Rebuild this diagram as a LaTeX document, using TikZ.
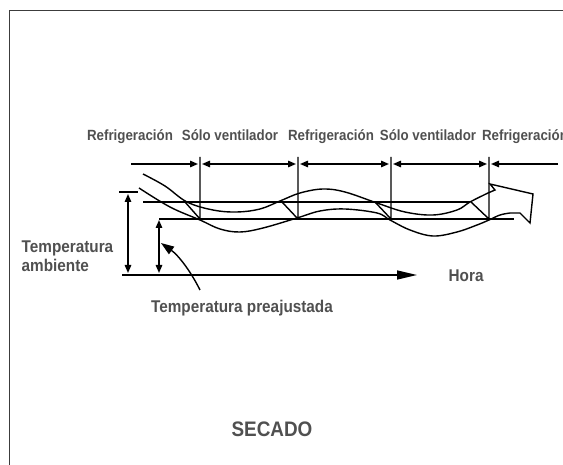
\documentclass[tikz,border=0pt]{standalone}
\usepackage{fontspec}
\newfontfamily\diagfont{Liberation Sans}[FakeStretch=0.9]
\usetikzlibrary{arrows.meta}
\definecolor{textgray}{RGB}{80,80,80}
\definecolor{framegray}{RGB}{60,60,60}

\tikzset{
  phasetext/.style={font=\diagfont\bfseries\fontsize{14.8}{17}\selectfont,
                    text=textgray, inner sep=0pt, anchor=base},
  axistext/.style={font=\diagfont\bfseries\fontsize{17}{19}\selectfont,
                   text=textgray, inner sep=0pt},
  dimarrow/.style={<->, shorten <=2pt, shorten >=2pt},
  tempcurve/.style={smooth, tension=0.6},
}

\begin{document}
\begin{tikzpicture}[x=1pt, y=-1pt, line width=1.4pt,
    >={Triangle[length=8pt,width=6.5pt]}]
  \useasboundingbox (0,0) rectangle (563,465);
  \clip (0,0) rectangle (563,465);
  \draw[framegray, line width=1.8pt] (9.5,465) -- (9.5,10.5) -- (563,10.5);

  % phases along the top
  \foreach \x/\t [count=\i] in {130/Refrigeración, 230/Sólo ventilador,
      331/Refrigeración, 428/Sólo ventilador, 525/Refrigeración}
    \node[phasetext] (phase\i) at (\x,141) {\t};

  % switching points
  \foreach \x/\c [count=\i] in {200/185, 298/282, 391/375, 489/471} {
    \coordinate (sw\i) at (\x,157);
    \coordinate (base\i) at (\x,219);
    \coordinate (cross\i) at (\c,202);
  }
  \coordinate (dimstart) at (131,164);
  \coordinate (dimend) at (558,164);
  \foreach \i in {1,...,4}
    \draw (sw\i) -- (base\i) (cross\i) -- (base\i);
  \draw[->, shorten >=2pt] (dimstart) -- (sw1 |- dimstart);
  \foreach \i/\j in {1/2,2/3,3/4}
    \draw[dimarrow] (sw\i |- dimstart) -- (sw\j |- dimstart);
  \draw[->, shorten >=2pt] (dimend) -- (sw4 |- dimend);

  % band limits
  \coordinate (upstart) at (143,202);
  \coordinate (upend) at (470,202);
  \coordinate (lowstart) at (159,219);
  \coordinate (lowend) at (514,219);
  \draw (upstart) -- (upend);
  \draw (lowstart) -- (lowend);

  % temperature curves
  \draw plot[tempcurve] coordinates {(143,174) (165,186) (187,202) (213,210)
    (237,212) (260,209) (280,201) (300,193) (323,189) (345,192) (377,203)
    (405,212) (433,215) (457,210) (470,202) (488,193)}
    -- (495,190) -- (490,184) -- (533,194) -- (530,223) -- (520,213) -- (510,213);
  \draw plot[tempcurve] coordinates {(139,188) (170,207) (200,220) (220,229)
    (240,232) (263,228) (297,218) (320,211) (345,209) (377,213) (390,220)
    (410,230) (433,236) (457,232) (477,225) (489,220) (500,215) (510,213)};

  % time axis
  \coordinate (origin) at (122,275);
  \coordinate (timeend) at (417,275);
  \draw[-{Triangle[length=20pt,width=9pt]}] (origin) -- (timeend);
  \node[axistext, anchor=base west] (hora) at (448,282) {Hora};

  % ambient and preset
  \coordinate (ambtick) at (128,192);
  \draw (119,192) -- (138,192);
  \draw[dimarrow] (ambtick) -- (ambtick |- origin);
  \draw[dimarrow, shorten <=1pt] (lowstart) -- (lowstart |- origin);
  \node[axistext, anchor=base west, align=left] (ambient) at (21,272)
    {Temperatura\\ambiente};

  \node[axistext, anchor=base] (preset) at (242,313) {Temperatura preajustada};
  \coordinate (ptail) at (200,290);
  \draw[-{Triangle[length=13pt,width=9pt]}] (ptail)
    .. controls (190,270) and (178,255) .. (161,243);

  \node[axistext, anchor=base, font=\diagfont\bfseries\fontsize{21}{24}\selectfont]
    (mode) at (272,436) {SECADO};
\end{tikzpicture}
\end{document}
